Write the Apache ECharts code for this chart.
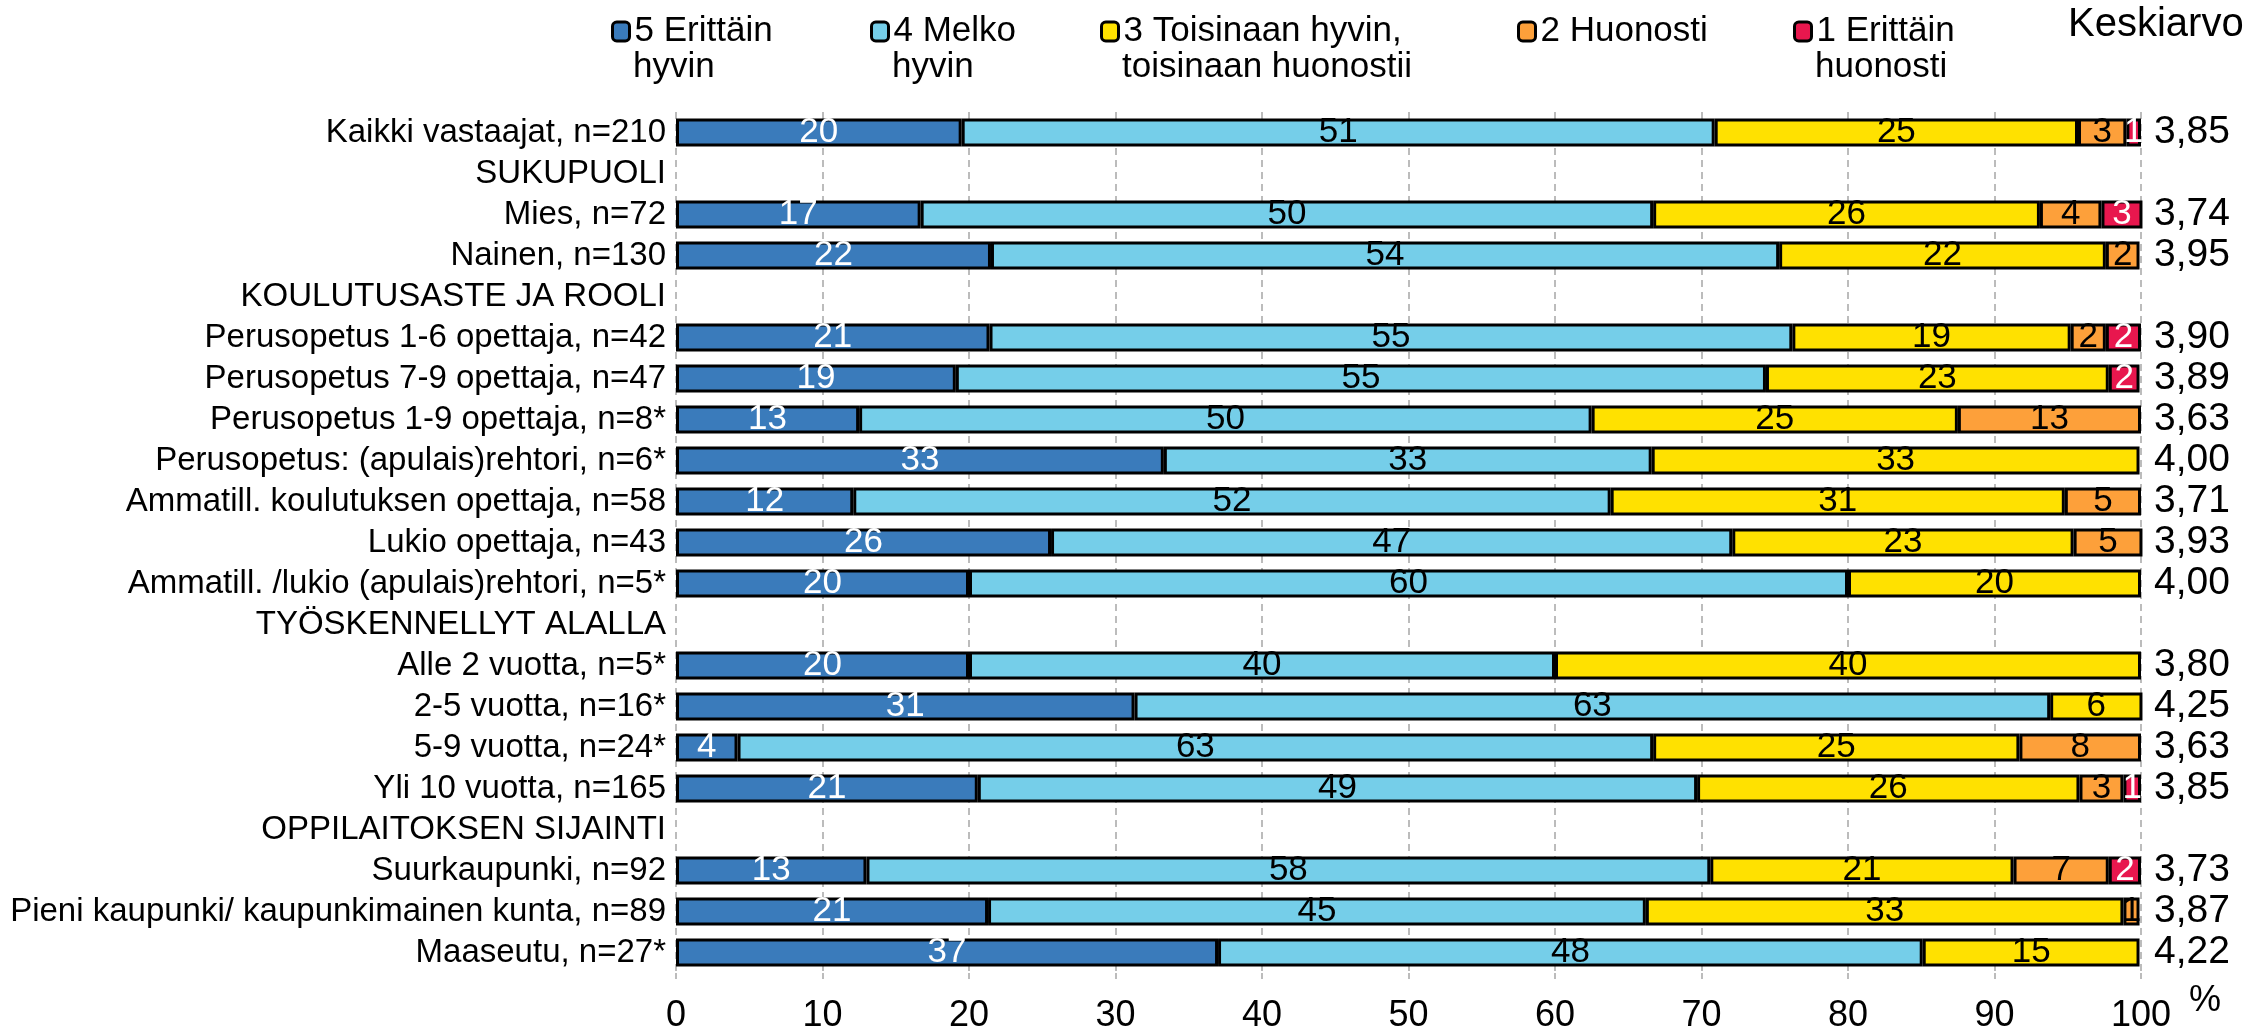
<!DOCTYPE html>
<html>
<head>
<meta charset="utf-8">
<script src="https://cdn.jsdelivr.net/npm/echarts@6/dist/echarts.min.js"></script>
<style>
html,body{margin:0;padding:0;background:#fff;}
#chart{width:2259px;height:1035px;}
</style>
</head>
<body>
<div id="chart"></div>
<script>
// Categories (top to bottom); header rows have no bars
const categories = [
  'Kaikki vastaajat, n=210',
  'SUKUPUOLI',
  'Mies, n=72',
  'Nainen, n=130',
  'KOULUTUSASTE JA ROOLI',
  'Perusopetus 1-6 opettaja, n=42',
  'Perusopetus 7-9 opettaja, n=47',
  'Perusopetus 1-9 opettaja, n=8*',
  'Perusopetus: (apulais)rehtori, n=6*',
  'Ammatill. koulutuksen opettaja, n=58',
  'Lukio opettaja, n=43',
  'Ammatill. /lukio (apulais)rehtori, n=5*',
  'TYÖSKENNELLYT ALALLA',
  'Alle 2 vuotta, n=5*',
  '2-5 vuotta, n=16*',
  '5-9 vuotta, n=24*',
  'Yli 10 vuotta, n=165',
  'OPPILAITOKSEN SIJAINTI',
  'Suurkaupunki, n=92',
  'Pieni kaupunki/ kaupunkimainen kunta, n=89',
  'Maaseutu, n=27*'
];

// Series values (%)
const v5 = [19.5, null, 16.7, 21.5, null, 21.4, 19.1, 12.5, 33.3, 12.1, 25.6, 20.0, null, 20.0, 31.3, 4.2, 20.6, null, 13.0, 21.3, 37.0];
const v4 = [51.4, null, 50.0, 53.8, null, 54.8, 55.3, 50.0, 33.3, 51.7, 46.5, 60.0, null, 40.0, 62.5, 62.5, 49.1, null, 57.6, 44.9, 48.1];
const v3 = [24.8, null, 26.4, 22.3, null, 19.0, 23.4, 25.0, 33.3, 31.0, 23.3, 20.0, null, 40.0, 6.3, 25.0, 26.1, null, 20.7, 32.6, 14.8];
const v2 = [3.3, null, 4.2, 2.3, null, 2.4, null, 12.5, null, 5.2, 4.7, null, null, null, null, 8.3, 3.0, null, 6.5, 1.1, null];
const v1 = [1.0, null, 2.8, null, null, 2.4, 2.1, null, null, null, null, null, null, null, null, null, 1.2, null, 2.2, null, null];

// Keskiarvo (mean) column
const means = ['3,85', '', '3,74', '3,95', '', '3,90', '3,89', '3,63', '4,00', '3,71', '3,93', '4,00', '', '3,80', '4,25', '3,63', '3,85', '', '3,73', '3,87', '4,22'];

const seriesNames = ['5 Erittäin hyvin', '4 Melko hyvin', '3 Toisinaan hyvin, toisinaan huonostii', '2 Huonosti', '1 Erittäin huonosti'];
const legendLine1 = ['5 Erittäin', '4 Melko', '3 Toisinaan hyvin,', '2 Huonosti', '1 Erittäin'];
const legendLine2 = ['hyvin', 'hyvin', 'toisinaan huonostii', '', 'huonosti'];
const xTicks = [0, 10, 20, 30, 40, 50, 60, 70, 80, 90, 100];

const colors = ['#3A7BBB', '#75CEE9', '#FFE100', '#FDA03A', '#E8174E'];
const labelColors = ['#ffffff', '#000000', '#000000', '#000000', '#ffffff'];
const values = [v5, v4, v3, v2, v1];

const FONT = 'Liberation Sans, Arial, sans-serif';
const FS_CAT = 33, FS_LEG = 35, FS_MEAN = 39, FS_TITLE = 40, FS_TICK = 36, FS_BAR = 35;

const chart = echarts.init(document.getElementById('chart'), null, {renderer: 'canvas'});

const legendLefts = [611, 870, 1100, 1517, 1793];
const ICON_W = 17, ICON_H = 19;
const legends = seriesNames.map((name, i) => ({
  show: true,
  left: legendLefts[i],
  top: 14,
  padding: 0,
  orient: 'horizontal',
  itemWidth: ICON_W,
  itemHeight: ICON_H,
  itemGap: 0,
  selectedMode: false,
  data: [{name: name, itemStyle: {borderColor: '#000', borderWidth: 3}}],
  formatter: function () { return legendLine1[i]; },
  textStyle: {fontFamily: FONT, fontSize: FS_LEG, color: '#000'}
}));

const legendSecond = legendLine2.map((t, i) => ({
  type: 'text',
  left: legendLefts[i] + ICON_W + 5,
  top: 50,
  style: {text: t, font: FS_LEG + 'px ' + FONT, fill: '#000'}
})).filter(g => g.style.text);

const option = {
  animation: false,
  backgroundColor: '#ffffff',
  textStyle: {fontFamily: FONT},
  title: {
    text: 'Keskiarvo', left: 2068, top: 4, padding: 0,
    textStyle: {fontFamily: FONT, fontSize: FS_TITLE, fontWeight: 'normal', color: '#000', lineHeight: 42}
  },
  legend: legends,
  graphic: legendSecond,
  grid: {left: 676, right: 118, top: 112, bottom: 62, containLabel: false, outerBoundsMode: 'none'},
  xAxis: {
    type: 'value', min: 0, max: 100, interval: 10,
    name: '%', nameLocation: 'end', nameGap: 48,
    nameTextStyle: {fontFamily: FONT, fontSize: FS_TICK, color: '#000', verticalAlign: 'top', align: 'left', padding: [10, 0, 0, 0]},
    axisLine: {show: false},
    axisTick: {show: true, length: 6, lineStyle: {color: '#A6A6A6', width: 1.5}},
    axisLabel: {fontFamily: FONT, fontSize: FS_TICK, lineHeight: 34, color: '#000', margin: 26,
      formatter: function (v) { return xTicks.indexOf(v) >= 0 ? String(v) : ''; }},
    splitLine: {show: true, lineStyle: {color: '#A6A6A6', width: 1.5, type: [7, 5]}}
  },
  yAxis: [
    {
      type: 'category', data: categories, inverse: true,
      axisLine: {show: false}, axisTick: {show: false},
      axisLabel: {interval: 0, fontFamily: FONT, fontSize: FS_CAT, color: '#000', margin: 10}
    },
    {
      type: 'category', data: categories, inverse: true, position: 'right',
      axisLine: {show: false}, axisTick: {show: false},
      axisLabel: {interval: 0, fontFamily: FONT, fontSize: FS_MEAN, color: '#000', margin: 13, align: 'left',
        formatter: function (v, idx) { return means[idx]; }}
    }
  ],
  series: values.map((arr, i) => ({
    name: seriesNames[i],
    type: 'bar',
    stack: 'total',
    yAxisIndex: 0,
    barWidth: 28,
    data: arr,
    itemStyle: {color: colors[i], borderColor: '#000', borderWidth: 3},
    label: {
      show: true, position: 'inside', fontFamily: FONT, fontSize: FS_BAR, color: labelColors[i],
      textBorderWidth: 0,
      formatter: function (p) { return p.value == null ? '' : String(Math.round(p.value)); }
    },
    emphasis: {disabled: true}
  }))
};

chart.setOption(option);
</script>
</body>
</html>
